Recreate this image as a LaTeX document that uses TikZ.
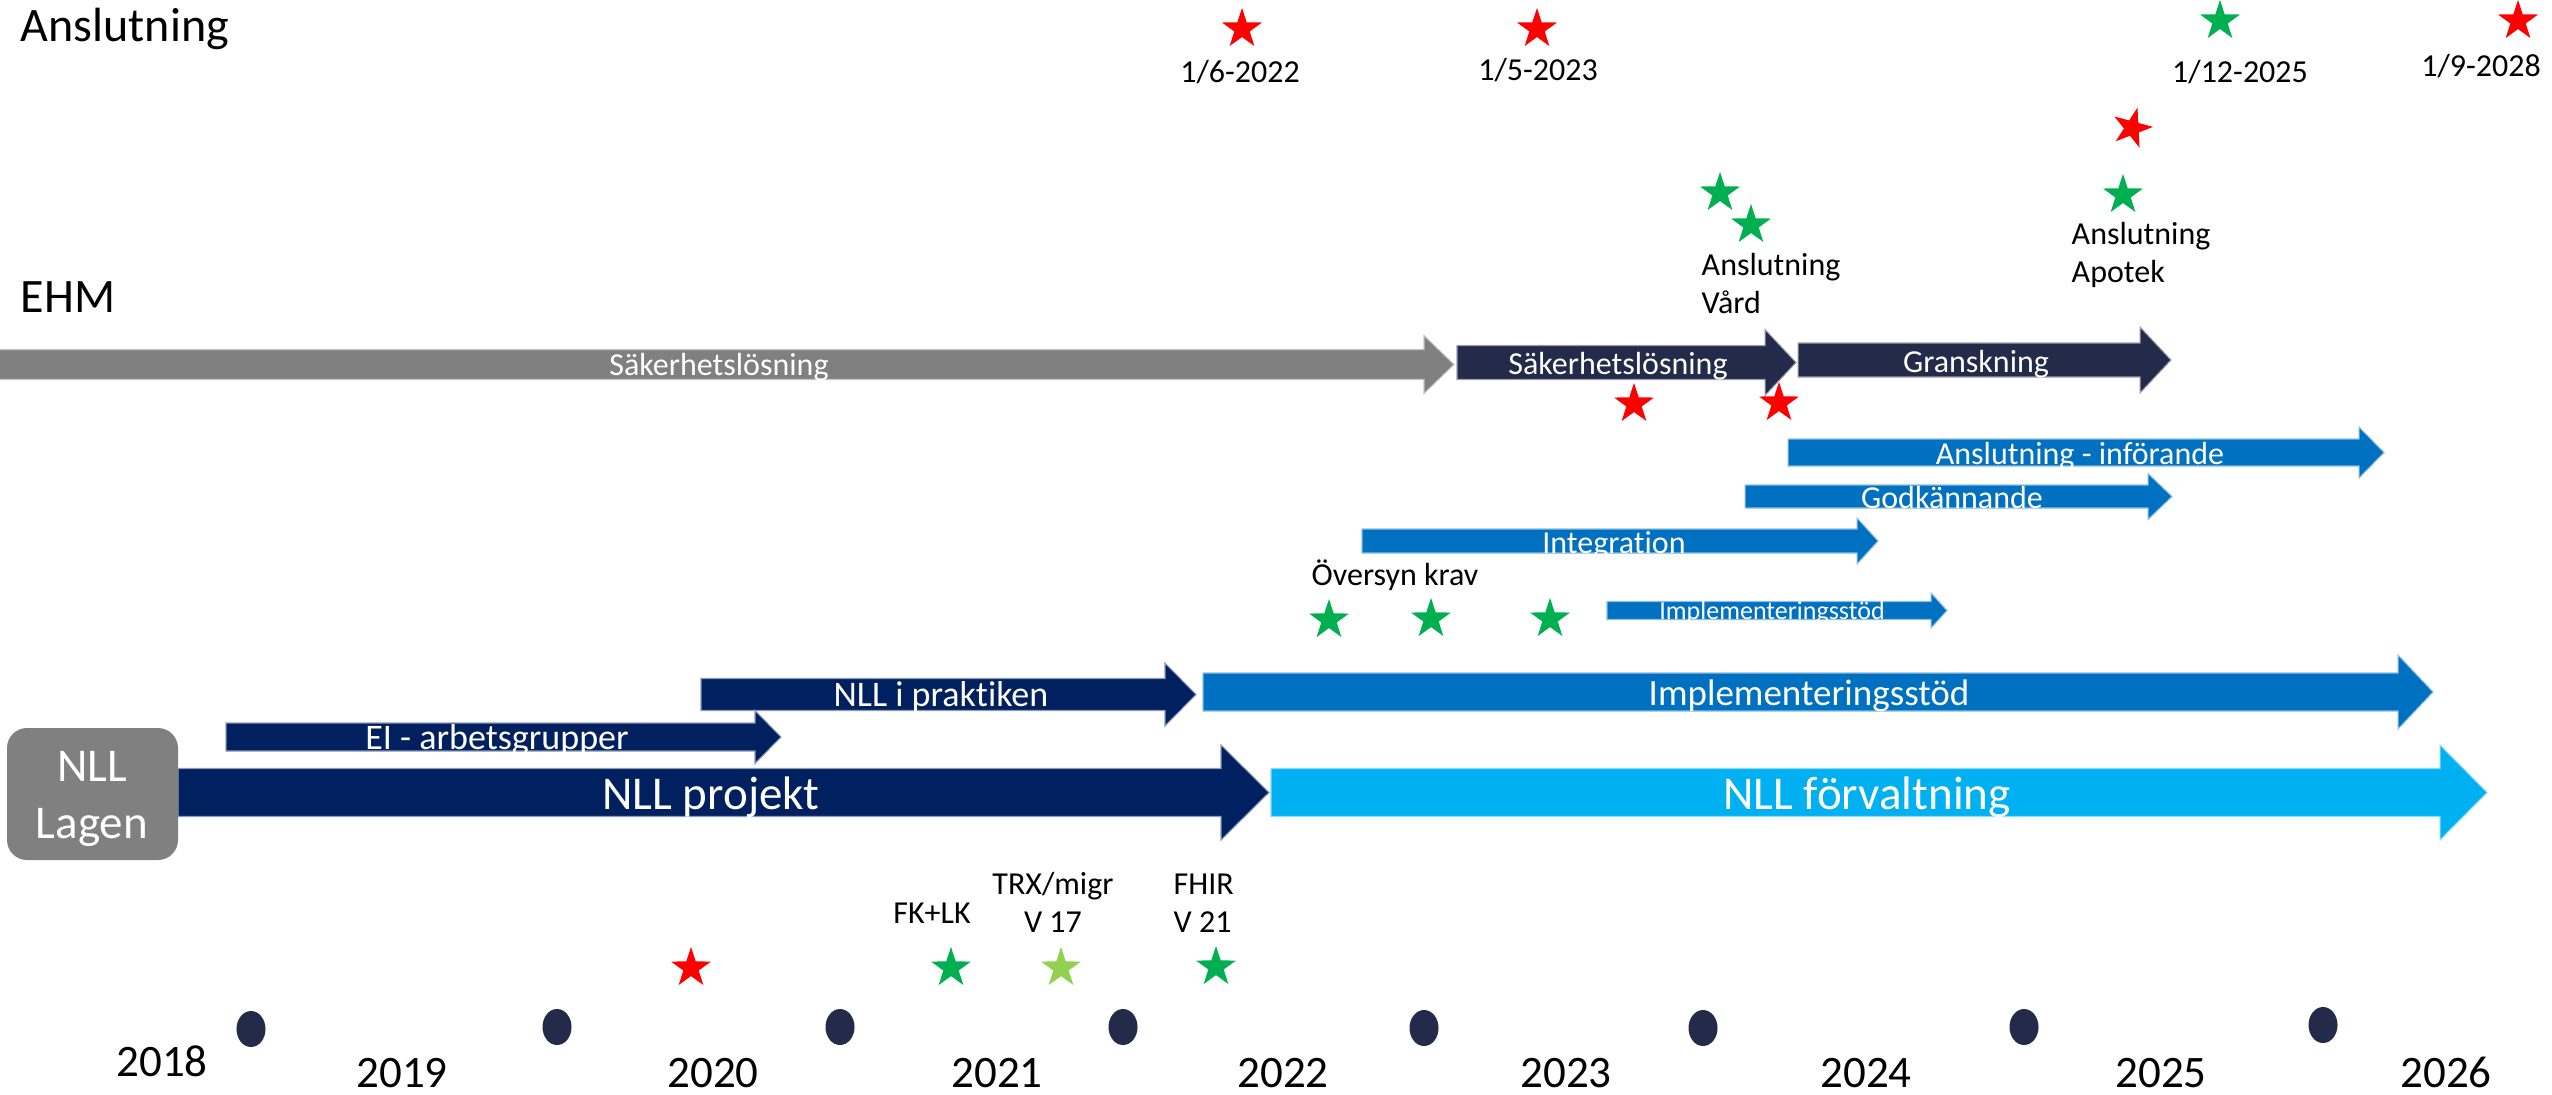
\documentclass[tikz,border=0pt]{standalone}
\usepackage{fontspec}
\setmainfont{Carlito}[Ligatures=NoCommon]
\usetikzlibrary{shapes.geometric}

\definecolor{graa}{HTML}{808080}
\definecolor{marin}{HTML}{232A4A}
\definecolor{navy}{HTML}{002060}
\definecolor{blaa}{HTML}{0070C0}
\definecolor{ljusblaa}{HTML}{00B0F0}
\definecolor{groen}{HTML}{00B050}
\definecolor{ljusgroen}{HTML}{92D050}
\definecolor{roed}{HTML}{FF0000}

% Tidpil: farg, start, hals, spets, mitt, halv kropp, halvt huvud
\newcommand{\tidpil}[7]{%
  \filldraw[fill=#1, draw=#1!45!white, line width=0.3pt]
    (#2,#5-#6) -- (#3,#5-#6) -- (#3,#5-#7) -- (#4,#5)
    -- (#3,#5+#7) -- (#3,#5+#6) -- (#2,#5+#6) -- cycle;}

\begin{document}
\begin{tikzpicture}[
    x=0.01cm,
    y=-0.01cm,
    inner sep=0pt,
    font=\fontsize{9.1}{10.53}\selectfont,
    stjarna/.style={star, star points=5, star point ratio=2.6,
      minimum size=0.42cm, inner sep=0pt, fill=#1},
    rubrik/.style={anchor=base west, font=\fontsize{13.66}{16}\selectfont},
    datum/.style={anchor=base},
    etikett/.style={anchor=base, text=white},
    aar/.style={anchor=base, font=\fontsize{12.8}{15}\selectfont},
    prick/.style={ellipse, fill=marin, minimum width=0.29cm,
      minimum height=0.36cm}
  ]
    \useasboundingbox (0,0) rectangle (2552,1094);

    % Rubriker
    \node[rubrik] (anslutning) at (20,42) {Anslutning};
    \node[rubrik] (ehm) at (20,312) {EHM};

    % --- EHM ---
    \tidpil{graa}{-2}{1424}{1454}{364.5}{15}{29}
    \node[etikett] (sak1) at (719,375) {Säkerhetslösning};
    \tidpil{marin}{1457}{1765}{1796}{362.5}{17}{33}
    \node[etikett] (sak2) at (1618,374) {Säkerhetslösning};
    \tidpil{marin}{1798}{2140}{2171}{360}{17}{33}
    \node[etikett] (gransk) at (1976,372) {Granskning};

    \tidpil{blaa}{1788}{2359}{2384}{452.5}{13.5}{25.5}
    \node[etikett] (inforande) at (2080,464) {Anslutning - införande};
    \tidpil{blaa}{1745}{2148}{2172}{496.5}{11.5}{23}
    \node[etikett] (godk) at (1952,508) {Godkännande};
    \tidpil{blaa}{1362}{1857}{1878}{541}{12}{23}
    \node[etikett] (integr) at (1614,553) {Integration};
    \tidpil{blaa}{1607}{1931}{1947}{610.5}{9}{17.5}
    \node[etikett, font=\fontsize{7.4}{9}\selectfont] (impl1) at (1772,619)
      {Implementeringsstöd};

    % --- NLL ---
    \tidpil{blaa}{1203}{2398}{2433}{692}{19}{37}
    \node[etikett, font=\fontsize{10.53}{12.5}\selectfont] (impl2) at (1809,705)
      {Implementeringsstöd};
    \tidpil{navy}{701}{1165}{1196}{694.5}{16}{31.5}
    \node[etikett, font=\fontsize{10.24}{12}\selectfont] (praktik) at (941,706)
      {NLL i praktiken};
    \tidpil{navy}{226}{755}{781}{737}{14}{26.5}
    \node[etikett, font=\fontsize{10.24}{12}\selectfont] (ei) at (497,749)
      {EI - arbetsgrupper};
    \tidpil{navy}{178}{1221}{1269}{792.5}{24}{47.5}
    \node[etikett, font=\fontsize{13.37}{16}\selectfont] (projekt) at (711,809)
      {NLL projekt};
    \tidpil{ljusblaa}{1271}{2440}{2487}{792.5}{24}{47.5}
    \node[etikett, font=\fontsize{13.37}{16}\selectfont] (forvalt) at (1867,809)
      {NLL förvaltning};

    \fill[graa, rounded corners=0.2cm] (7,728) rectangle (178,860);
    \node[etikett, align=center, font=\fontsize{13.37}{15.93}\selectfont]
      (lagen) at (92,838) {NLL\\Lagen};

    % Anslutningsdatum
    \node[stjarna=roed] (s2022) at (1242,29) {};
    \node[datum] (d2022) at (1240,83) {1/6-2022};
    \node[stjarna=roed] (s2023) at (1537,29) {};
    \node[datum] (d2023) at (1538,81) {1/5-2023};
    \node[stjarna=groen] (s2025) at (2220,21) {};
    \node[datum] (d2025) at (2240,83) {1/12-2025};
    \node[stjarna=roed] (s2028) at (2518,21) {};
    \node[datum] (d2028) at (2481,77) {1/9-2028};

    \node[stjarna=groen] (vard1) at (1720,193) {};
    \node[stjarna=groen] (vard2) at (1751,225) {};
    \node[anchor=base west, align=left] (vard) at (1701,313) {Anslutning\\Vård};
    \node[stjarna=roed, rotate=-15] (apotek1) at (2132,128) {};
    \node[stjarna=groen] (apotek2) at (2123,195) {};
    \node[anchor=base west, align=left] (apotek) at (2071,282)
      {Anslutning\\Apotek};

    \node[stjarna=roed] (sak3) at (1634,404) {};
    \node[stjarna=roed] (sak4) at (1779,403) {};

    \node[datum] (oversyn) at (1395,585) {Översyn krav};
    \node[stjarna=groen] (krav1) at (1329,620) {};
    \node[stjarna=groen] (krav2) at (1431,619) {};
    \node[stjarna=groen] (krav3) at (1550,619) {};

    % Leveranser
    \node[stjarna=roed] (lev1) at (691,968) {};
    \node[stjarna=groen] (lev2) at (951,968) {};
    \node[datum] (fklk) at (932,923) {FK+LK};
    \node[stjarna=ljusgroen] (lev3) at (1061,968) {};
    \node[datum, align=center] (trx) at (1053,932) {TRX/migr\\V 17};
    \node[stjarna=groen] (lev4) at (1216,967) {};
    \node[anchor=base west, align=left] (fhir) at (1173,932) {FHIR\\V 21};

    % Tidslinje
    \foreach \x/\y [count=\i] in {251/1029, 557/1027, 840/1027, 1123/1027,
        1424/1028, 1703/1028, 2024/1027, 2323/1025}
      \node[prick] (p\i) at (\x,\y) {};
    \foreach \a/\x/\y in {2018/162/1076, 2019/402/1087, 2020/713/1087,
        2021/997/1087, 2022/1283/1087, 2023/1566/1087, 2024/1866/1087,
        2025/2161/1087, 2026/2446/1087}
      \node[aar] (y\a) at (\x,\y) {\a};
  \end{tikzpicture}
\end{document}
